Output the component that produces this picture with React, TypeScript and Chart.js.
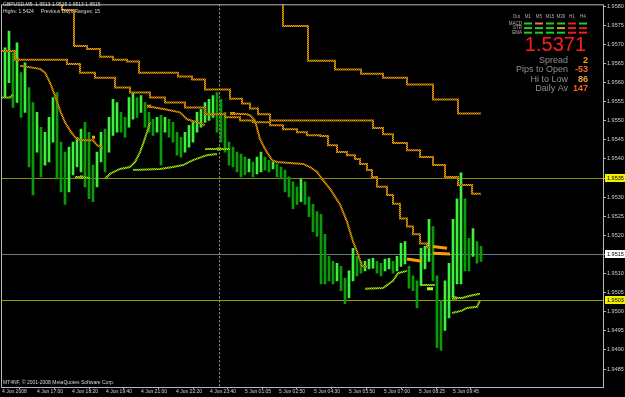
import React, { useEffect, useRef } from 'react';
import { Chart, registerables } from 'chart.js';
Chart.register(...registerables);

// ---------- data (bar index = 5-minute bars grouped, price in GBPUSD) ----------
const barHigh = [
  1.95691, 1.95735, 1.95678, 1.95704, 1.95626, 1.95652, 1.95587, 1.95548, 1.95522, 1.95483,
  1.95470, 1.95509, 1.95561, 1.95574, 1.95444, 1.95418, 1.95431, 1.95444, 1.95457, 1.95478,
  1.95496, 1.95470, 1.95384, 1.95418, 1.95470, 1.95478, 1.95509, 1.95556, 1.95548, 1.95522,
  1.95509, 1.95561, 1.95574, 1.95561, 1.95566, 1.95548, 1.95522, 1.95504, 1.95509, 1.95514,
  1.95509, 1.95504, 1.95496, 1.95470, 1.95457, 1.95470, 1.95488, 1.95496, 1.95522, 1.95530,
  1.95548, 1.95556, 1.95566, 1.95574, 1.95556, 1.95522, 1.95444, 1.95431, 1.95418, 1.95413,
  1.95405, 1.95400, 1.95392, 1.95405, 1.95418, 1.95405, 1.95397, 1.95392, 1.95387, 1.95379,
  1.95371, 1.95353, 1.95340, 1.95327, 1.95348, 1.95340, 1.95301, 1.95281, 1.95262, 1.95255,
  1.95203, 1.95145, 1.95132, 1.95127, 1.95119, 1.95088, 1.95107, 1.95166, 1.95145, 1.95132,
  1.95132, 1.95138, 1.95140, 1.95132, 1.95127, 1.95138, 1.95140, 1.95132, 1.95145, 1.95179,
  1.95184, 1.95119, 1.95094, 1.95081, 1.95166, 1.95171, 1.95242, 1.95223, 1.95094, 1.95029,
  1.95081, 1.95127, 1.95242, 1.95296, 1.95364, 1.95296, 1.95192, 1.95218, 1.95184, 1.95171,
];
const barLow = [
  1.95561, 1.95600, 1.95535, 1.95548, 1.95509, 1.95522, 1.95379, 1.95306, 1.95418, 1.95353,
  1.95384, 1.95392, 1.95444, 1.95348, 1.95314, 1.95281, 1.95314, 1.95358, 1.95379, 1.95366,
  1.95327, 1.95296, 1.95288, 1.95327, 1.95392, 1.95366, 1.95418, 1.95462, 1.95470, 1.95470,
  1.95457, 1.95483, 1.95504, 1.95509, 1.95522, 1.95483, 1.95470, 1.95462, 1.95470, 1.95384,
  1.95470, 1.95457, 1.95444, 1.95410, 1.95405, 1.95418, 1.95431, 1.95444, 1.95470, 1.95483,
  1.95496, 1.95501, 1.95509, 1.95470, 1.95444, 1.95418, 1.95384, 1.95379, 1.95366, 1.95353,
  1.95358, 1.95366, 1.95353, 1.95361, 1.95366, 1.95371, 1.95366, 1.95374, 1.95353, 1.95348,
  1.95314, 1.95301, 1.95270, 1.95281, 1.95288, 1.95281, 1.95249, 1.95210, 1.95197, 1.95073,
  1.95073, 1.95081, 1.95073, 1.95081, 1.95055, 1.95021, 1.95036, 1.95081, 1.95094, 1.95101,
  1.95107, 1.95112, 1.95114, 1.95101, 1.95094, 1.95107, 1.95112, 1.95101, 1.95107, 1.95119,
  1.95125, 1.95062, 1.95055, 1.95010, 1.95068, 1.95112, 1.95132, 1.95081, 1.94906, 1.94899,
  1.94951, 1.94984, 1.95036, 1.95073, 1.95073, 1.95107, 1.95107, 1.95145, 1.95127, 1.95132,
];

// stepped multi-timeframe averages: [bar index where level starts, price]
const maH1: [number, number][] = [
  [66.25, 1.9583], [69.5, 1.95748], [75.75, 1.95657], [82.5, 1.95634], [89, 1.95623],
  [94.5, 1.95613], [100.5, 1.95595], [107, 1.95556], [113.25, 1.95519], [119, 1.95519],
];
const maM30: [number, number][] = [
  [12.5, 1.9583], [14.25, 1.9579], [17.25, 1.95696], [20.5, 1.95688], [23.75, 1.95668],
  [27, 1.9566], [30.5, 1.95655], [33.5, 1.95626], [43.25, 1.95616], [46.75, 1.95608],
  [50, 1.95582], [56.25, 1.95558], [59.25, 1.95545], [61.25, 1.95532], [63.25, 1.95517],
  [66.25, 1.95501], [92, 1.95481], [94.5, 1.95465], [97, 1.95442], [100.5, 1.95423],
  [103.75, 1.95405], [107, 1.95384], [110, 1.95353], [113.25, 1.95332], [116.75, 1.95309],
  [119, 1.95309],
];
const maM15: [number, number][] = [
  [-0.75, 1.95683], [2.5, 1.9566], [15.5, 1.95649], [18.75, 1.95626], [22.5, 1.95613],
  [27.5, 1.95587], [31.25, 1.95574], [36.25, 1.95561], [40, 1.95548], [45, 1.95535],
  [50, 1.95517], [55, 1.95509], [58.75, 1.95501], [62, 1.95496], [66.25, 1.95488],
  [69.5, 1.95478], [73, 1.9547], [75.5, 1.95462], [78.75, 1.9546], [80.75, 1.95436],
  [83, 1.95418], [85.5, 1.9541], [87.5, 1.954], [88.75, 1.95387], [90.5, 1.95371],
  [91.75, 1.95353], [93, 1.95327], [95.5, 1.95306], [97, 1.95283], [98.75, 1.95244],
  [100.5, 1.95223], [102, 1.95203], [103.75, 1.95179], [105.5, 1.95169], [106.25, 1.95169],
];
// fast average pieces (orange curve)
const maFastA: [number, number][] = [
  [3.75, 1.95644], [8.75, 1.95636], [10, 1.95626], [11.25, 1.956], [12.5, 1.95566],
  [13.75, 1.95527], [15, 1.95496], [16.25, 1.95475], [17.5, 1.95457], [18.75, 1.95449],
  [22, 1.95449], [23, 1.95436], [24.5, 1.95429],
];
const maFastB: [number, number][] = [
  [35.5, 1.95538], [40, 1.9553], [43.75, 1.95522], [45.5, 1.95504], [48.75, 1.95494], [50, 1.95488],
];
const maFastC: [number, number][] = [
  [56.25, 1.95519], [60.5, 1.95517], [61.25, 1.95514], [62.5, 1.95501], [63.75, 1.95452],
  [65, 1.95426], [66.75, 1.95397], [68, 1.95392], [74.5, 1.95387], [76.25, 1.95379],
  [78, 1.95366], [79.25, 1.95348], [81.25, 1.95322], [83.75, 1.95281], [85.5, 1.95236],
  [87, 1.95184], [88.25, 1.95151], [89.25, 1.95119], [90.5, 1.95119],
];
const orangeMarks: [number, number][][] = [
  [[2.75, 1.9566], [3.5, 1.9566]],
  [[21.75, 1.95457], [22.5, 1.95457]],
  [[35.5, 1.95538], [36.5, 1.95538]],
  [[56.25, 1.95519], [57.5, 1.95519]],
  [[100.5, 1.95138], [104.25, 1.95132]],
  [[107, 1.95171], [110.5, 1.95166]],
  [[107, 1.95153], [111.25, 1.95151]],
];
// green support curves
const greenLines: [number, number][][] = [
  [[-0.75, 1.95561], [1.25, 1.95561], [2, 1.95569]],
  [[17.5, 1.95353], [18.75, 1.95353], [21.25, 1.9535]],
  [[25, 1.95348], [26.25, 1.95361], [28.75, 1.95374], [31.25, 1.95379], [32.5, 1.95392],
   [33.75, 1.95418], [34.5, 1.95439], [35.5, 1.9547], [36.25, 1.95496]],
  [[32, 1.95371], [38.75, 1.95374], [42, 1.95379], [44.5, 1.95384], [47, 1.95397], [50.5, 1.9541], [53, 1.95413]],
  [[50, 1.95426], [56.25, 1.95426]],
  [[90, 1.9506], [94.5, 1.95062], [97, 1.95081], [98.25, 1.95101], [100.5, 1.95107]],
  [[104.25, 1.9507], [107.5, 1.9507]],
  [[111.75, 1.95036], [114.25, 1.95036], [116.25, 1.95042], [118.75, 1.95047]],
  [[111.75, 1.94997], [114.25, 1.95003], [115.5, 1.9501], [118, 1.95013], [118.75, 1.95029]],
];
const greenMarks: [number, number][][] = [
  [[18.75, 1.95353], [19.5, 1.95353]],
  [[53, 1.95426], [54, 1.95426]],
  [[105.5, 1.9506], [107, 1.9506]],
  [[111.75, 1.95036], [113, 1.95036]],
];

const yTickValues = [
  1.9485, 1.949, 1.9495, 1.95, 1.9505, 1.951, 1.9515, 1.952, 1.9525, 1.953,
  1.9535, 1.954, 1.9545, 1.955, 1.9555, 1.956, 1.9565, 1.957, 1.9575, 1.958,
];
const xTickIndex = [-0.75, 8, 16.75, 25.25, 34, 42.75, 51.25, 60, 68.5, 77.25, 86, 94.75, 103.5, 112];
const xTickLabels = [
  '4 Jun 2008', '4 Jun 17:00', '4 Jun 18:20', '4 Jun 19:40', '4 Jun 21:00', '4 Jun 22:20',
  '4 Jun 23:40', '5 Jun 01:05', '5 Jun 02:50', '5 Jun 04:30', '5 Jun 05:50', '5 Jun 07:00',
  '5 Jun 08:25', '5 Jun 09:45',
];
const levelValues = [1.9535, 1.9515, 1.9503];
const levelColors = ['#8c8c00', '#66788a', '#9c9c00'];
const levelLabelBg = ['#f0f000', '#ffffff', '#f0f000'];
const levelLabelText = ['1.9535', '1.9515', '1.9503'];
const daySeparatorIndex = 53.5;

const headerLines = ['GBPUSD,M5  1.9513 1.9515 1.9513 1.9515', 'Highs: 1.5424     Previous Days Ranges: 15'];
const panelCols = ['M1', 'M5', 'M15', 'M30', 'H1', 'H4'];
const panelRows = ['MACD', 'STR', 'EMA'];
const panelStates = [
  ['up', 'weak', 'up', 'up', 'down', 'up'],
  ['up', 'up', 'up', 'flat', 'down', 'down'],
  ['up', 'up', 'up', 'up', 'down', 'down'],
];
const bidText = '1.5371';
const infoLabels = ['Spread', 'Pips to Open', 'Hi to Low', 'Daily Av'];
const infoValues = ['2', '-53', '86', '147'];
const infoColors = ['#ffa200', '#ff6a2a', '#eea23a', '#ff5a22'];
const copyright = 'MT4NF, \u00a9 2001-2008 MetaQuotes Software Corp.';

const Y_MIN = 1.94803;
const Y_MAX = 1.95805;
const FONT = '"Liberation Sans", Arial, sans-serif';

const toXY = (pts: [number, number][]) => pts.map(([x, y]) => ({ x, y }));

function checker(a: string, b: string) {
  const c = document.createElement('canvas');
  c.width = 2; c.height = 2;
  const g = c.getContext('2d')!;
  g.fillStyle = b; g.fillRect(0, 0, 2, 2);
  g.fillStyle = a; g.fillRect(0, 0, 1, 1); g.fillRect(1, 1, 1, 1);
  return g.createPattern(c, 'repeat')!;
}

export default function App() {
  const ref = useRef<HTMLCanvasElement>(null);
  useEffect(() => {
    const BRIGHT = '#3ef03e';
    const DARK = '#0c9a0c';
    const barColors = barHigh.map((h, i) =>
      i === 0 || h + barLow[i] >= barHigh[i - 1] + barLow[i - 1] ? BRIGHT : DARK);
    const orange = checker('#f4a000', '#7c4e00');
    const green = checker('#a4ec10', '#4a8200');
    const stepLine = (pts: [number, number][]) => ({
      type: 'line' as const, data: toXY(pts), borderColor: orange, borderWidth: 2,
      pointRadius: 0, stepped: 'before' as const, fill: false, clip: 0, order: 1,
    });
    const curve = (pts: [number, number][], color: any, width = 2) => ({
      type: 'line' as const, data: toXY(pts), borderColor: color, borderWidth: width,
      pointRadius: 0, tension: 0, fill: false, clip: 0, order: 1,
    });

    const overlay = {
      id: 'mtOverlay',
      beforeDatasetsDraw(chart: any) {
        const { ctx, chartArea: a, scales } = chart;
        const ys = scales.y, xs = scales.x;
        ctx.save();
        ctx.beginPath();
        ctx.rect(a.left, a.top, a.right - a.left, a.bottom - a.top);
        ctx.clip();
        levelValues.forEach((v, k) => {
          const py = Math.round(ys.getPixelForValue(v)) + 0.5;
          ctx.strokeStyle = levelColors[k];
          ctx.lineWidth = 1;
          ctx.beginPath(); ctx.moveTo(a.left, py); ctx.lineTo(a.right, py); ctx.stroke();
        });
        const sx = Math.round(xs.getPixelForValue(daySeparatorIndex)) + 0.5;
        ctx.setLineDash([2, 2]);
        ctx.strokeStyle = '#a0a0a0';
        ctx.beginPath(); ctx.moveTo(sx, a.top); ctx.lineTo(sx, a.bottom); ctx.stroke();
        ctx.restore();
      },
      afterDraw(chart: any) {
        const { ctx, chartArea: a, scales } = chart;
        const ys = scales.y;
        ctx.save();
        ctx.strokeStyle = '#b8b8b8';
        ctx.lineWidth = 1;
        ctx.strokeRect(a.left + 0.5, a.top + 0.5, a.right - a.left - 1, a.bottom - a.top);
        ctx.fillStyle = '#d8d8d8';
        ctx.font = `5px ${FONT}`;
        ctx.textAlign = 'left';
        ctx.textBaseline = 'middle';
        headerLines.forEach((t, k) => ctx.fillText(t, 3, 5 + k * 6.5));
        ctx.fillText(copyright, 3, 383);
        levelValues.forEach((v, k) => {
          const py = Math.round(ys.getPixelForValue(v));
          ctx.fillStyle = levelLabelBg[k];
          ctx.fillRect(a.right + 1, py - 4, 625 - a.right - 1, 8);
          ctx.fillStyle = '#000';
          ctx.font = `5.5px ${FONT}`;
          ctx.fillText(levelLabelText[k], a.right + 3, py + 0.5);
        });
        const stateColor: Record<string, string> = { up: '#22cc22', weak: '#f07060', flat: '#f0a000', down: '#e82020' };
        ctx.font = `4.5px ${FONT}`;
        ctx.fillStyle = '#b0b0b0';
        ctx.textAlign = 'center';
        panelCols.forEach((c, j) => ctx.fillText(c, 528 + j * 11, 17));
        ctx.textAlign = 'right';
        ctx.fillText('Out', 520, 17);
        panelRows.forEach((r, i) => {
          const ry = 22.5 + i * 4.6;
          ctx.fillStyle = '#b0b0b0';
          ctx.fillText(r, 522, ry + 1);
          panelStates[i].forEach((s, j) => {
            ctx.fillStyle = stateColor[s];
            ctx.fillRect(524 + j * 11, ry, 8, 2);
          });
        });
        ctx.font = `20px ${FONT}`;
        ctx.fillStyle = '#ff1c1c';
        ctx.textBaseline = 'alphabetic';
        ctx.fillText(bidText, 586, 51);
        ctx.textBaseline = 'middle';
        infoLabels.forEach((l, k) => {
          const ry = 60.5 + k * 9.3;
          ctx.font = `9px ${FONT}`;
          ctx.fillStyle = '#8e8e8e';
          ctx.fillText(l, 568, ry);
          ctx.font = `bold 9px ${FONT}`;
          ctx.fillStyle = infoColors[k];
          ctx.fillText(infoValues[k], 588, ry);
        });
        ctx.restore();
      },
    };

    const chart = new Chart(ref.current!, {
      type: 'bar',
      data: {
        datasets: [
          {
            type: 'bar', data: barHigh.map((h, i) => ({ x: i, y: [barLow[i], h] })) as any,
            backgroundColor: barColors, barThickness: 2, order: 5,
          } as any,
          stepLine(maH1), stepLine(maM30), stepLine(maM15),
          curve(maFastA, orange), curve(maFastB, orange), curve(maFastC, orange),
          ...orangeMarks.map((m) => curve(m, '#ff9a00', 3)),
          ...greenLines.map((g) => curve(g, green)),
          ...greenMarks.map((m) => curve(m, '#a8ff20', 3)),
        ],
      },
      options: {
        responsive: false,
        maintainAspectRatio: false,
        animation: false,
        devicePixelRatio: 1,
        layout: { padding: { left: 1, top: 1, right: 0, bottom: 0 } },
        plugins: { legend: { display: false }, tooltip: { enabled: false } },
        scales: {
          x: {
            type: 'linear', min: -1, max: 149.75, offset: false,
            afterFit: (s: any) => { s.height = 10; },
            afterBuildTicks: (s: any) => { s.ticks = xTickIndex.map((v) => ({ value: v })); },
            ticks: {
              autoSkip: false, maxRotation: 0, minRotation: 0, align: 'start', padding: 0,
              color: '#d0d0d0', font: { size: 5, family: FONT },
              callback: (_v: any, i: number) => xTickLabels[i],
            },
            grid: { drawOnChartArea: false, drawTicks: true, tickLength: 2, color: '#b8b8b8' },
            border: { display: false },
          },
          y: {
            position: 'right', min: Y_MIN, max: Y_MAX,
            afterFit: (s: any) => { s.width = 21; },
            afterBuildTicks: (s: any) => { s.ticks = yTickValues.map((v) => ({ value: v })); },
            ticks: {
              autoSkip: false, padding: 1, color: '#d0d0d0', font: { size: 5.5, family: FONT },
              callback: (v: any) => Number(v).toFixed(4),
            },
            grid: { drawOnChartArea: false, drawTicks: true, tickLength: 2, color: '#b8b8b8' },
            border: { display: false },
          },
        },
      } as any,
      plugins: [overlay],
    });
    return () => chart.destroy();
  }, []);

  return (
    <div style={{ position: 'fixed', left: 0, top: 0, width: 625, height: 397, background: '#000' }}>
      <canvas ref={ref} width={625} height={397} style={{ display: 'block', width: 625, height: 397 }} />
    </div>
  );
}
